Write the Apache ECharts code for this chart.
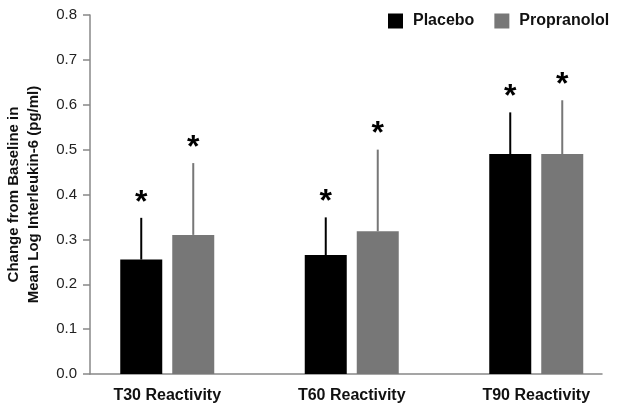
<!DOCTYPE html>
<html>
<head>
<meta charset="utf-8">
<script src="https://cdn.jsdelivr.net/npm/echarts@6/dist/echarts.min.js"></script>
<style>
html,body{margin:0;padding:0;background:#fff;}
#chart{width:633px;height:412px;}
</style>
</head>
<body>
<div id="chart"></div>
<script>
// ---- data ----
var categories = ['T30 Reactivity', 'T60 Reactivity', 'T90 Reactivity'];
var seriesNames = ['Placebo', 'Propranolol'];
var placebo = [0.255, 0.265, 0.49];
var placeboErrTop = [0.348, 0.349, 0.583];
var propranolol = [0.31, 0.318, 0.49];
var propranololErrTop = [0.47, 0.50, 0.61];
var yTicks = [0, 0.1, 0.2, 0.3, 0.4, 0.5, 0.6, 0.7, 0.8];

// ---- styling ----
var colors = ['#000000', '#777777'];
var BAR_W = 42, BAR_GAP = 10;
var FONT = '"Liberation Sans", Arial, sans-serif';

var chart = echarts.init(document.getElementById('chart'), null, {renderer: 'canvas'});

function errSeries(name, means, tops, idx) {
  var data = categories.map(function (c, i) { return [i, means[i], tops[i]]; });
  var offset = (idx === 0 ? -1 : 1) * (BAR_W + BAR_GAP) / 2;
  return {
    type: 'custom',
    name: name + ' err',
    xAxisIndex: 1, yAxisIndex: 1,
    data: data,
    z: 5,
    renderItem: function (params, api) {
      var lo = api.coord([api.value(0), api.value(1)]);
      var hi = api.coord([api.value(0), api.value(2)]);
      var x = lo[0] + offset;
      return {
        type: 'group',
        children: [
          {type: 'line', shape: {x1: x, y1: lo[1], x2: x, y2: hi[1]},
           style: {stroke: colors[idx], lineWidth: 2}},
          {type: 'text', x: x, y: hi[1] - 31,
           style: {text: '*', font: 'bold 32px ' + FONT, fill: '#000',
                   align: 'center', verticalAlign: 'top'}}
        ]
      };
    }
  };
}

var option = {
  animation: false,
  backgroundColor: '#ffffff',
  legend: {
    data: seriesNames,
    left: 383, top: 8,
    itemWidth: 15, itemHeight: 15, itemGap: 20,
    icon: 'rect',
    textStyle: {fontFamily: FONT, fontWeight: 'bold', fontSize: 16, color: '#111', padding: [0, 0, 0, 5]}
  },
  grid: [
    {left: 90, right: 31, top: 15, bottom: 38, outerBoundsMode: 'none', containLabel: false},
    {left: 75, right: 4.5, top: 15, bottom: 38, outerBoundsMode: 'none', containLabel: false}
  ],
  xAxis: [
    {gridIndex: 0, type: 'value', min: 0, max: 1,
     axisLine: {show: true, onZero: false, lineStyle: {color: '#888', width: 1.5}},
     axisTick: {show: false}, axisLabel: {show: false}, splitLine: {show: false}},
    {gridIndex: 1, type: 'category', data: categories,
     axisLine: {show: false}, axisTick: {show: false},
     axisLabel: {margin: 14, fontFamily: FONT, fontWeight: 'bold', fontSize: 16, color: '#111'}}
  ],
  yAxis: [
    {gridIndex: 0, type: 'value', min: yTicks[0], max: yTicks[yTicks.length - 1], interval: 0.1,
     name: 'Change from Baseline in\nMean Log Interleukin-6 (pg/ml)',
     nameLocation: 'middle', nameGap: 46, nameRotate: 90,
     nameTextStyle: {fontFamily: FONT, fontWeight: 'bold', fontSize: 15, color: '#111', lineHeight: 20},
     axisLine: {show: true, lineStyle: {color: '#888', width: 1.5}},
     axisTick: {show: true, length: 7, lineStyle: {color: '#888', width: 1.5}},
     axisLabel: {margin: 13, fontFamily: FONT, fontSize: 15, color: '#222',
                 formatter: function (v) { return v.toFixed(1); }},
     splitLine: {show: false}},
    {gridIndex: 1, type: 'value', min: yTicks[0], max: yTicks[yTicks.length - 1], interval: 0.1,
     show: false, splitLine: {show: false}}
  ],
  series: [
    {name: seriesNames[0], type: 'bar', xAxisIndex: 1, yAxisIndex: 1,
     data: placebo, barWidth: BAR_W, barGap: (BAR_GAP / BAR_W * 100) + '%',
     itemStyle: {color: colors[0]}},
    {name: seriesNames[1], type: 'bar', xAxisIndex: 1, yAxisIndex: 1,
     data: propranolol, barWidth: BAR_W, barGap: (BAR_GAP / BAR_W * 100) + '%',
     itemStyle: {color: colors[1]}},
    errSeries(seriesNames[0], placebo, placeboErrTop, 0),
    errSeries(seriesNames[1], propranolol, propranololErrTop, 1)
  ]
};
chart.setOption(option);
</script>
</body>
</html>
